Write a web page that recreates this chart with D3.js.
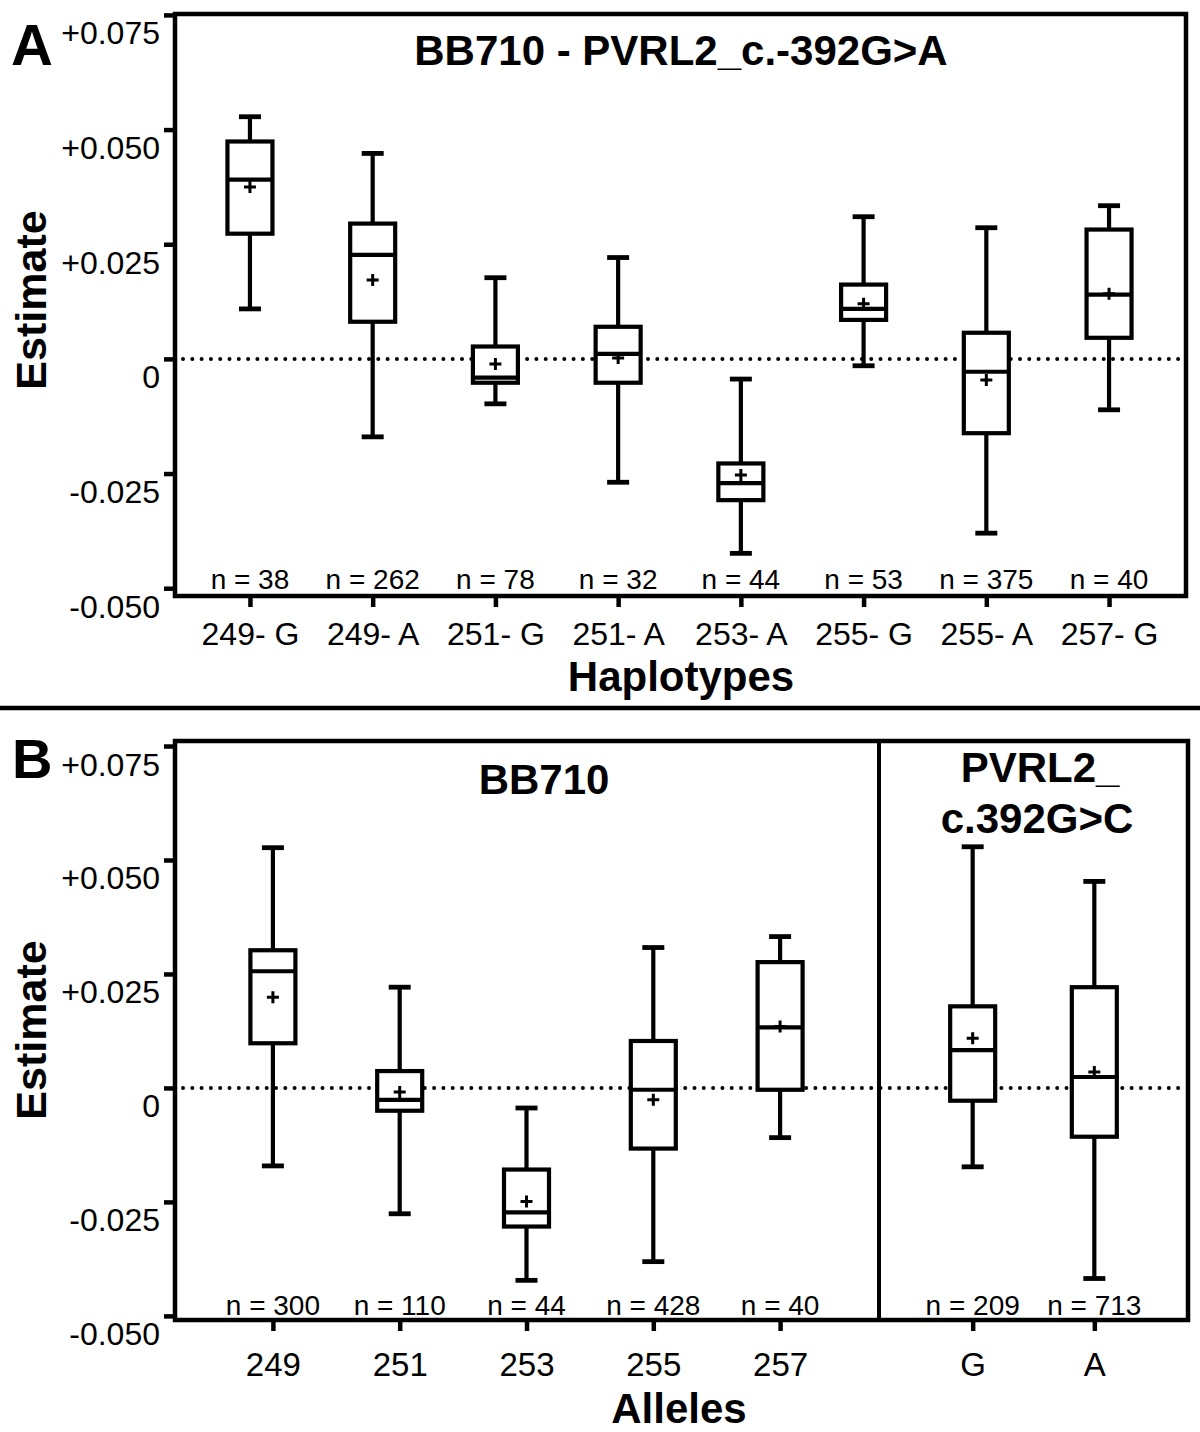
<!DOCTYPE html>
<html><head><meta charset="utf-8">
<script src="https://cdn.jsdelivr.net/npm/d3@7"></script>
<style>body{margin:0;background:#fff}svg{display:block}</style>
</head><body>
<script>
// ---------- DATA ----------
const yTicks = [-0.05, -0.025, 0, 0.025, 0.05, 0.075];
const yTickLabels = ["-0.050", "-0.025", "0", "+0.025", "+0.050", "+0.075"];

const haploCats = ["249- G","249- A","251- G","251- A","253- A","255- G","255- A","257- G"];
const haploN = [38, 262, 78, 32, 44, 53, 375, 40];
const haploHigh   = [0.0528, 0.0448, 0.0177, 0.0221, -0.0044, 0.0310, 0.0286, 0.0334];
const haploQ3     = [0.0474, 0.0295, 0.0027, 0.0070, -0.0228, 0.0162, 0.0057, 0.0282];
const haploMedian = [0.0391, 0.0227, -0.0041, 0.0011, -0.0271, 0.0109, -0.0028, 0.0140];
const haploMean   = [0.0375, 0.0172, -0.0011, 0.0002, -0.0253, 0.0120, -0.0046, 0.0142];
const haploQ1     = [0.0273, 0.0081, -0.0052, -0.0052, -0.0308, 0.0085, -0.0162, 0.0046];
const haploLow    = [0.0109, -0.0170, -0.0098, -0.0269, -0.0424, -0.0015, -0.0380, -0.0111];

const alleleCats = ["249","251","253","255","257"];
const alleleN = [300, 110, 44, 428, 40];
const alleleHigh   = [0.0527, 0.0221, -0.0044, 0.0308, 0.0332];
const alleleQ3     = [0.0302, 0.0037, -0.0179, 0.0103, 0.0276];
const alleleMedian = [0.0256, -0.0026, -0.0273, -0.0004, 0.0133];
const alleleMean   = [0.0199, -0.0009, -0.0249, -0.0026, 0.0135];
const alleleQ1     = [0.0098, -0.0050, -0.0304, -0.0133, -0.0004];
const alleleLow    = [-0.0171, -0.0276, -0.0422, -0.0381, -0.0109];

const snpCats = ["G","A"];
const snpN = [209, 713];
const snpHigh   = [0.0529, 0.0453];
const snpQ3     = [0.0179, 0.0221];
const snpMedian = [0.0083, 0.0024];
const snpMean   = [0.0109, 0.0035];
const snpQ1     = [-0.0028, -0.0107];
const snpLow    = [-0.0173, -0.0418];

const panelATitle = "BB710 - PVRL2_c.-392G>A";
const panelBTitle1 = "BB710";
const panelBTitle2a = "PVRL2_";
const panelBTitle2b = "c.392G>C";

// ---------- DRAW ----------
const W = 1200, H = 1432;
const FONT = "'Liberation Sans', Arial, Helvetica, sans-serif";
const svg = d3.select("body").append("svg").attr("width", W).attr("height", H)
  .style("background", "#fff");
svg.append("rect").attr("width", W).attr("height", H).attr("fill", "#fff");

function build(cats, n, high, q3, med, mean, q1, low) {
  return cats.map((c, i) => ({cat: c, n: n[i], high: high[i], q3: q3[i], med: med[i], mean: mean[i], q1: q1[i], low: low[i]}));
}

function drawBoxes(g, x, y, data, nBaseline) {
  const bw = 45, cw = 22;
  const grp = g.append("g").selectAll("g").data(data).join("g")
    .attr("transform", d => `translate(${x(d.cat)},0)`);
  grp.append("line").attr("x1", 0).attr("x2", 0)
    .attr("y1", d => y(d.high)).attr("y2", d => y(d.q3))
    .attr("stroke", "#000").attr("stroke-width", 4.2);
  grp.append("line").attr("x1", 0).attr("x2", 0)
    .attr("y1", d => y(d.q1)).attr("y2", d => y(d.low))
    .attr("stroke", "#000").attr("stroke-width", 4.2);
  grp.append("line").attr("x1", -cw/2).attr("x2", cw/2)
    .attr("y1", d => y(d.high)).attr("y2", d => y(d.high))
    .attr("stroke", "#000").attr("stroke-width", 4.8);
  grp.append("line").attr("x1", -cw/2).attr("x2", cw/2)
    .attr("y1", d => y(d.low)).attr("y2", d => y(d.low))
    .attr("stroke", "#000").attr("stroke-width", 4.8);
  grp.append("rect").attr("x", -bw/2).attr("width", bw)
    .attr("y", d => y(d.q3)).attr("height", d => y(d.q1) - y(d.q3))
    .attr("fill", "#fff").attr("stroke", "#000").attr("stroke-width", 4.2);
  grp.append("line").attr("x1", -bw/2).attr("x2", bw/2)
    .attr("y1", d => y(d.med)).attr("y2", d => y(d.med))
    .attr("stroke", "#000").attr("stroke-width", 4.2);
  // mean "+"
  grp.append("path")
    .attr("d", d => `M-6,${y(d.mean)}H6M0,${y(d.mean)-6}V${y(d.mean)+6}`)
    .attr("stroke", "#000").attr("stroke-width", 3);
  // n labels
  grp.append("text").attr("x", 0).attr("y", nBaseline)
    .attr("text-anchor", "middle").attr("font-family", FONT).attr("font-size", 28)
    .text(d => `n = ${d.n}`);
}

function yAxis(g, y, left) {
  const ax = g.append("g").attr("transform", `translate(${left},0)`)
    .call(d3.axisLeft(y).tickValues(yTicks).tickFormat((d, i) => yTickLabels[i]).tickSize(11).tickPadding(4));
  ax.select(".domain").remove();
  ax.selectAll(".tick line").attr("stroke", "#000").attr("stroke-width", 4.5);
  ax.selectAll(".tick text").attr("dy", null).attr("y", 29)
    .attr("font-family", FONT).attr("font-size", 32).attr("fill", "#000");
}

function xAxis(g, x, bottom, labelOffset, fs) {
  const ax = g.append("g").attr("transform", `translate(0,${bottom})`)
    .call(d3.axisBottom(x).tickSize(11).tickSizeOuter(0));
  ax.select(".domain").remove();
  ax.selectAll(".tick line").attr("stroke", "#000").attr("stroke-width", 4.5);
  ax.selectAll(".tick text").attr("dy", null).attr("y", labelOffset)
    .attr("font-family", FONT).attr("font-size", fs).attr("fill", "#000");
}

function zeroLine(g, y, x1, x2) {
  g.append("line").attr("x1", x1 + 8).attr("x2", x2 - 4)
    .attr("y1", y(0)).attr("y2", y(0))
    .attr("stroke", "#000").attr("stroke-width", 4)
    .attr("stroke-linecap", "round").attr("stroke-dasharray", "0,9.3");
}

function boldText(g, txt, x, y, size, rotate) {
  const t = g.append("text").attr("font-family", FONT).attr("font-weight", "bold")
    .attr("font-size", size).attr("text-anchor", "middle").attr("fill", "#000").text(txt);
  if (rotate) t.attr("transform", `translate(${x},${y}) rotate(-90)`);
  else t.attr("x", x).attr("y", y);
  return t;
}

// ===== Panel A =====
{
  const g = svg.append("g");
  const L = 175, R = 1186, T = 14, B = 596;
  const y = d3.scaleLinear().domain([-0.0517, 0.0752]).range([B, T]);
  const x = d3.scalePoint().domain(haploCats).range([173, 1186]).padding(0.627);
  zeroLine(g, y, L, R);
  drawBoxes(g, x, y, build(haploCats, haploN, haploHigh, haploQ3, haploMedian, haploMean, haploQ1, haploLow), 589);
  g.append("rect").attr("x", L).attr("y", T).attr("width", R - L).attr("height", B - T)
    .attr("fill", "none").attr("stroke", "#000").attr("stroke-width", 4.5);
  yAxis(g, y, L);
  xAxis(g, x, B, 49, 32);
  boldText(g, panelATitle, 681, 65, 42);
  boldText(g, "Haplotypes", 681, 691, 42);
  boldText(g, "Estimate", 46, 300, 43, true);
  g.append("text").attr("x", 11).attr("y", 65).attr("font-family", FONT).attr("font-weight", "bold")
    .attr("font-size", 58).text("A");
}

// separator
svg.append("line").attr("x1", 0).attr("x2", W).attr("y1", 708).attr("y2", 708)
  .attr("stroke", "#000").attr("stroke-width", 4.5);

// ===== Panel B =====
{
  const g = svg.append("g");
  const L = 175, R = 1188, T = 741, B = 1320, S = 879;
  const y = d3.scaleLinear().domain([-0.0509, 0.0761]).range([B, T]);
  const x1 = d3.scalePoint().domain(alleleCats).range([174, S]).padding(0.78);
  const x2 = d3.scalePoint().domain(snpCats).range([S, R]).padding(0.77);
  zeroLine(g, y, L, R);
  drawBoxes(g, x1, y, build(alleleCats, alleleN, alleleHigh, alleleQ3, alleleMedian, alleleMean, alleleQ1, alleleLow), 1315);
  drawBoxes(g, x2, y, build(snpCats, snpN, snpHigh, snpQ3, snpMedian, snpMean, snpQ1, snpLow), 1315);
  g.append("rect").attr("x", L).attr("y", T).attr("width", R - L).attr("height", B - T)
    .attr("fill", "none").attr("stroke", "#000").attr("stroke-width", 4.5);
  g.append("line").attr("x1", S).attr("x2", S).attr("y1", T).attr("y2", B)
    .attr("stroke", "#000").attr("stroke-width", 4);
  yAxis(g, y, L);
  xAxis(g, x1, B, 56, 33);
  xAxis(g, x2, B, 56, 33);
  boldText(g, panelBTitle1, 544, 794, 42);
  boldText(g, panelBTitle2a, 1040, 782, 42);
  boldText(g, panelBTitle2b, 1037, 833, 42);
  boldText(g, "Alleles", 679, 1423, 42);
  boldText(g, "Estimate", 46, 1030, 43, true);
  g.append("text").attr("x", 12).attr("y", 778).attr("font-family", FONT).attr("font-weight", "bold")
    .attr("font-size", 56).text("B");
}
</script>
</body></html>
